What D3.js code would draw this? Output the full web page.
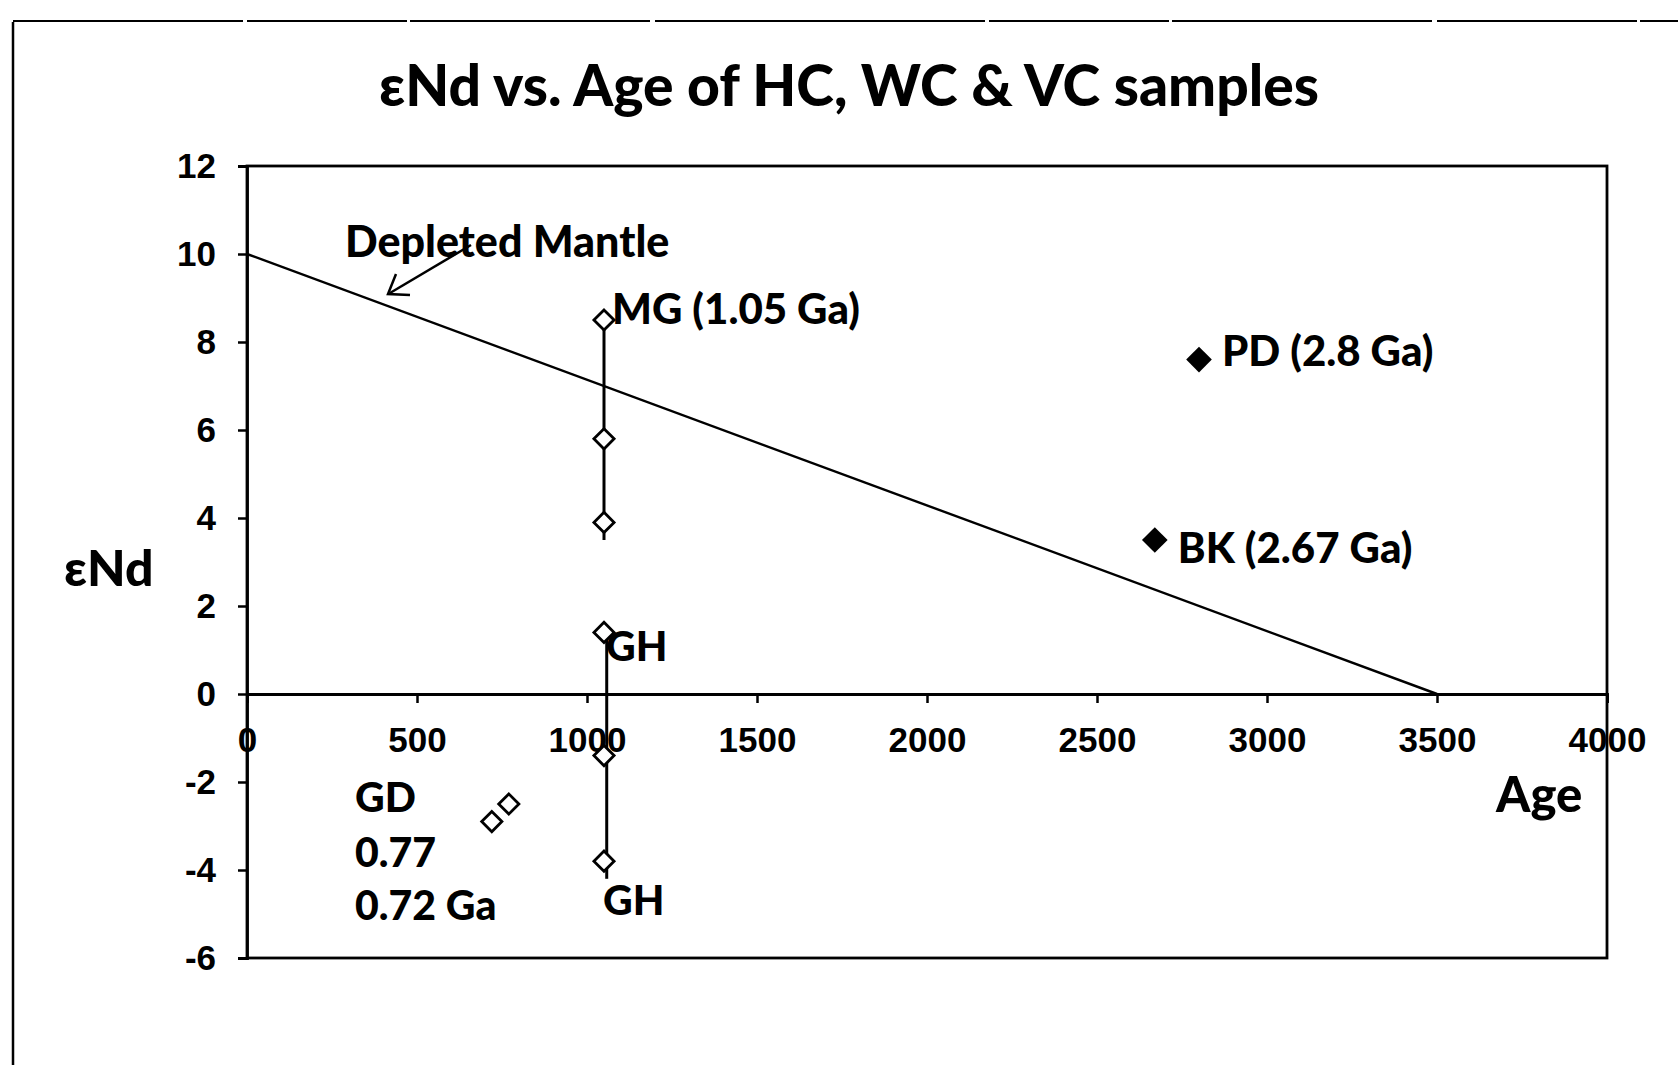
<!DOCTYPE html>
<html>
<head>
<meta charset="utf-8">
<script src="https://cdn.jsdelivr.net/npm/d3@7"></script>
<style>
  html, body { margin: 0; padding: 0; background: #fff; }
  svg { display: block; }
  .lbl { font-family: Lato, "Open Sans", sans-serif; font-weight: 900; fill: #000; }
  .tick text { font-family: "Liberation Sans", Arial, sans-serif; font-weight: bold; }
</style>
</head>
<body>
<div id="chart"></div>
<script>
// data
let xTicks = [0, 500, 1000, 1500, 2000, 2500, 3000, 3500, 4000];
let yTicks = [-6, -4, -2, 0, 2, 4, 6, 8, 10, 12];

let dmAge = [0, 3500];            // depleted mantle line
let dmEnd = [10, 0];

let mgAge = [1050, 1050, 1050];   // MG samples
let mgEnd = [8.5, 5.8, 3.9];
let mgRange = [8.5, 3.5];

let ghAge = [1050, 1050, 1050];   // GH samples
let ghEnd = [1.4, -1.4, -3.8];
let ghRange = [1.3, -4.2];

let gdAge = [720, 770];           // GD samples
let gdEnd = [-2.9, -2.5];

let pdAge = [2800], pdEnd = [7.6];
let bkAge = [2670], bkEnd = [3.5];

let W = 1678, H = 1065;
let pLeft = 247, pRight = 1607, pTop = 166, pBottom = 958;

let svg = d3.select('#chart').append('svg')
    .attr('width', W)
    .attr('height', H);

let x = d3.scaleLinear().domain([0, 4000]).range([pLeft, pRight]);
let y = d3.scaleLinear().domain([-6, 12]).range([pBottom, pTop]);

// scan frame
svg.append('line')
    .attr('x1', 13).attr('x2', 13).attr('y1', 22).attr('y2', H)
    .style('stroke', '#000').style('stroke-width', 2.5);
svg.append('line')
    .attr('x1', 13).attr('x2', W).attr('y1', 21).attr('y2', 21)
    .style('stroke', '#000').style('stroke-width', 2)
    .style('stroke-dasharray', '230 4 160 3 240 5 330 4 180 3 260 5 200 3');

// title
svg.append('text')
    .attr('class', 'lbl')
    .attr('x', 849).attr('y', 106)
    .attr('text-anchor', 'middle')
    .style('font-size', '57px')
    .text('εNd vs. Age of HC, WC & VC samples');

// plot box
svg.append('rect')
    .attr('x', pLeft).attr('y', pTop)
    .attr('width', pRight - pLeft).attr('height', pBottom - pTop)
    .style('fill', 'none').style('stroke', '#000').style('stroke-width', 2.8);

let fmt = d => String(d);

// y axis
let yAxis = svg.append('g')
    .attr('transform', 'translate(' + pLeft + ',0)')
    .call(d3.axisLeft(y).tickValues(yTicks).tickFormat(fmt).tickSize(9).tickPadding(22));
yAxis.select('.domain').style('stroke-width', 2.8);
yAxis.selectAll('line').style('stroke-width', 2.5);
yAxis.selectAll('text').style('font-size', '35px').style('fill', '#000');

// x axis at zero
let xAxis = svg.append('g')
    .attr('transform', 'translate(0,' + y(0) + ')')
    .call(d3.axisBottom(x).tickValues(xTicks).tickFormat(fmt).tickSize(9).tickPadding(24));
xAxis.select('.domain').style('stroke-width', 2.8);
xAxis.selectAll('line').style('stroke-width', 2.5);
xAxis.selectAll('text').style('font-size', '35px').style('fill', '#000');

// axis titles
svg.append('text').attr('class', 'lbl')
    .attr('x', 64).attr('y', 567).attr('dominant-baseline', 'central')
    .style('font-size', '50px').text('εNd');
svg.append('text').attr('class', 'lbl')
    .attr('x', 1496).attr('y', 793).attr('dominant-baseline', 'central')
    .style('font-size', '49px').text('Age');

let line = d3.line().x(d => x(d[0])).y(d => y(d[1]));

// depleted mantle
svg.append('path')
    .datum(d3.zip(dmAge, dmEnd))
    .attr('d', line)
    .style('fill', 'none').style('stroke', '#000').style('stroke-width', 2.4);

// vertical ranges of MG and GH
svg.append('path')
    .datum([[mgAge[0], mgRange[0]], [mgAge[0], mgRange[1]]])
    .attr('d', line)
    .style('fill', 'none').style('stroke', '#000').style('stroke-width', 3);
svg.append('path')
    .datum([[ghAge[0] + 8, ghRange[0]], [ghAge[0] + 8, ghRange[1]]])
    .attr('d', line)
    .style('fill', 'none').style('stroke', '#000').style('stroke-width', 3);

let diamond = d3.symbol().type(d3.symbolDiamond2);

function drawPoints(ages, ends, size, filled) {
    svg.append('g').selectAll('path')
        .data(d3.zip(ages, ends))
        .join('path')
        .attr('transform', d => 'translate(' + x(d[0]) + ',' + y(d[1]) + ')')
        .attr('d', diamond.size(size))
        .style('fill', filled ? '#000' : '#fff')
        .style('stroke', '#000')
        .style('stroke-width', filled ? 0 : 2.8);
}

drawPoints(mgAge, mgEnd, 260, false);
drawPoints(ghAge, ghEnd, 260, false);
drawPoints(gdAge, gdEnd, 260, false);
drawPoints(pdAge, pdEnd, 420, true);
drawPoints(bkAge, bkEnd, 420, true);

// point labels
function label(px, py, dx, dy, txt, size) {
    svg.append('text').attr('class', 'lbl')
        .attr('x', px + dx).attr('y', py + dy)
        .attr('dominant-baseline', 'central')
        .style('font-size', size + 'px')
        .text(txt);
}
label(x(mgAge[0]), y(mgEnd[0]), 8, -12, 'MG (1.05 Ga)', 42);
label(x(pdAge[0]), y(pdEnd[0]), 23, -10, 'PD (2.8 Ga)', 42);
label(x(bkAge[0]), y(bkEnd[0]), 23, 7, 'BK (2.67 Ga)', 42);
label(x(ghAge[0]), y(ghEnd[0]), 2, 13, 'GH', 41);
label(x(ghAge[0]), y(ghEnd[2]), -1, 38, 'GH', 41);
label(x(0), y(-2.4), 108, -3, 'GD', 41);
label(x(0), y(-3.65), 108, -3, '0.77', 41);
label(x(0), y(-4.85), 108, -3, '0.72 Ga', 41);

// depleted mantle annotation
label(x(0), y(9.8), 98, -22, 'Depleted Mantle', 43);
svg.append('line')
    .attr('x1', 471).attr('y1', 245).attr('x2', 390).attr('y2', 293)
    .style('stroke', '#000').style('stroke-width', 2.5);
svg.append('path')
    .attr('d', 'M396,274 L388,294 L410,295')
    .style('fill', 'none').style('stroke', '#000').style('stroke-width', 2.5);
</script>
</body>
</html>
